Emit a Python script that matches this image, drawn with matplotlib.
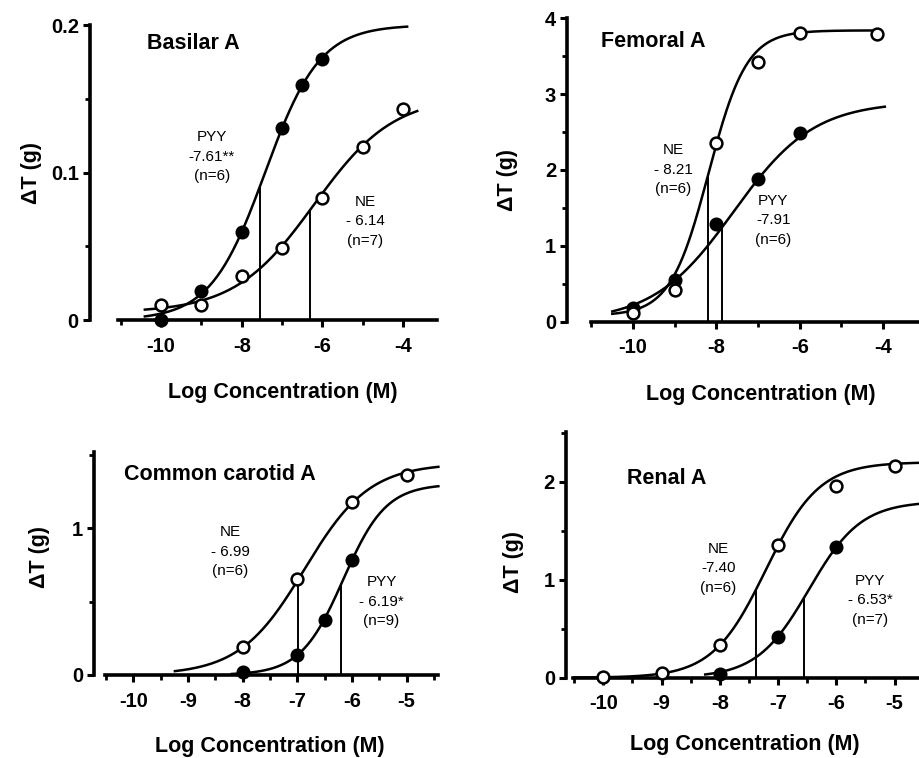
import numpy as np
import matplotlib
matplotlib.use("Agg")
import matplotlib.pyplot as plt
from matplotlib.ticker import FixedLocator

plt.rcParams['font.family'] = ['Liberation Sans', 'DejaVu Sans']

# ---- data ----
# Basilar A
bas_ne_x = [-10, -9, -8, -7, -6, -5, -4]
bas_ne_y = [0.010, 0.010, 0.030, 0.049, 0.083, 0.117, 0.143]
bas_pyy_x = [-10, -9, -8, -7, -6.5, -6]
bas_pyy_y = [0.0, 0.020, 0.060, 0.130, 0.159, 0.177]
# fitted curves: bottom, top, logEC50, hill, x start, x end
bas_ne_fit = [0.005, 0.152, -6.20, 0.44, -10.4, -3.65]
bas_pyy_fit = [0.0, 0.200, -7.42, 0.64, -10.4, -3.9]
bas_lines = [-7.55, -6.30]   # PYY, NE drop lines

# Femoral A
fem_ne_x = [-10, -9, -8, -7, -6, -4.15]
fem_ne_y = [0.11, 0.42, 2.36, 3.42, 3.80, 3.79]
fem_pyy_x = [-10, -9, -8, -7, -6]
fem_pyy_y = [0.18, 0.55, 1.29, 1.88, 2.49]
fem_ne_fit = [0.08, 3.84, -8.19, 0.95, -10.5, -4.15]
fem_pyy_fit = [0.0, 2.90, -7.59, 0.45, -10.5, -3.96]
fem_lines = [-7.87, -8.20]

# Common carotid A
car_ne_x = [-8, -7, -6, -5]
car_ne_y = [0.19, 0.654, 1.177, 1.363]
car_pyy_x = [-8, -7, -6.5, -6]
car_pyy_y = [0.02, 0.136, 0.375, 0.784]
car_ne_fit = [0.0, 1.44, -6.87, 0.73, -9.24, -4.42]
car_pyy_fit = [0.0, 1.30, -6.16, 1.11, -8.2, -4.42]
car_lines = [-6.20, -6.99]

# Renal A
ren_ne_x = [-10, -9, -8, -7, -6, -5]
ren_ne_y = [0.01, 0.045, 0.33, 1.35, 1.96, 2.16]
ren_pyy_x = [-8, -7, -6]
ren_pyy_y = [0.035, 0.42, 1.33]
ren_ne_fit = [0.0, 2.20, -7.21, 0.95, -10.5, -4.58]
ren_pyy_fit = [0.0, 1.80, -6.47, 0.97, -8.25, -4.58]
ren_lines = [-6.55, -7.37]


def hill(x, p):
    b, t, c, n = p[:4]
    return b + (t - b) / (1 + 10 ** (n * (c - x)))


fig = plt.figure(figsize=(9.19, 7.58), dpi=100)

panels = [
    dict(rect=[0.0979, 0.5778, 0.3776, 0.3892], xlim=(-11.76, -3.16), xspine=(-11.07, -3.16),
         ylim=(0, 0.2), ymaj=[0, 0.1, 0.2], ylab=['0', '0.1', '0.2'], ymin=[0.05, 0.15],
         xmaj=[-10, -8, -6, -4], xmin=[-11, -9, -7, -5],
         ne=(bas_ne_x, bas_ne_y, bas_ne_fit), pyy=(bas_pyy_x, bas_pyy_y, bas_pyy_fit), lines=bas_lines,
         title=('Basilar A', -10.35, 0.1876),
         notes=[('PYY\n-7.61**\n(n=6)', -8.74, 0.1107), ('NE\n- 6.14\n(n=7)', -4.94, 0.0671)],
         xl=(0.556, -0.247), yl=(-0.168, 0.498)),
    dict(rect=[0.6173, 0.5756, 0.3827, 0.4003], xlim=(-11.58, -3.14), xspine=(-11.02, -3.14),
         ylim=(0, 4), ymaj=[0, 1, 2, 3, 4], ylab=['0', '1', '2', '3', '4'], ymin=[0.5, 1.5, 2.5, 3.5],
         xmaj=[-10, -8, -6, -4], xmin=[-11, -9, -7, -5],
         ne=(fem_ne_x, fem_ne_y, fem_ne_fit), pyy=(fem_pyy_x, fem_pyy_y, fem_pyy_fit), lines=fem_lines,
         title=('Femoral A', -10.76, 3.69),
         notes=[('NE\n- 8.21\n(n=6)', -9.04, 2.0), ('PYY\n-7.91\n(n=6)', -6.64, 1.34)],
         xl=(0.549, -0.24), yl=(-0.169, 0.467)),
    dict(rect=[0.1023, 0.1095, 0.3747, 0.2946], xlim=(-10.72, -4.42), xspine=(-10.52, -4.42),
         ylim=(0, 1.52), ymaj=[0, 1], ylab=['0', '1'], ymin=[0.5, 1.5],
         xmaj=[-10, -9, -8, -7, -6, -5], xmin=[-10.5, -9.5, -8.5, -7.5, -6.5, -5.5, -4.5],
         ne=(car_ne_x, car_ne_y, car_ne_fit), pyy=(car_pyy_x, car_pyy_y, car_pyy_fit), lines=car_lines,
         title=('Common carotid A', -10.18, 1.363),
         notes=[('NE\n- 6.99\n(n=6)', -8.23, 0.84), ('PYY\n- 6.19*\n(n=9)', -5.46, 0.50)],
         xl=(0.511, -0.32), yl=(-0.157, 0.53)),
    dict(rect=[0.6159, 0.1059, 0.3841, 0.3245], xlim=(-10.64, -4.58), xspine=(-10.52, -4.58),
         ylim=(0, 2.51), ymaj=[0, 1, 2], ylab=['0', '1', '2'], ymin=[0.5, 1.5, 2.5],
         xmaj=[-10, -9, -8, -7, -6, -5], xmin=[-10.5, -9.5, -8.5, -7.5, -6.5, -5.5, -4.5],
         ne=(ren_ne_x, ren_ne_y, ren_ne_fit), pyy=(ren_pyy_x, ren_pyy_y, ren_pyy_fit), lines=ren_lines,
         title=('Renal A', -9.6, 2.035),
         notes=[('NE\n-7.40\n(n=6)', -8.02, 1.116), ('PYY\n- 6.53*\n(n=7)', -5.42, 0.79)],
         xl=(0.507, -0.27), yl=(-0.150, 0.472)),
]

for p in panels:
    ax = fig.add_axes(p['rect'])
    ax.set_xlim(*p['xlim'])
    ax.set_ylim(*p['ylim'])
    for s in ['top', 'right']:
        ax.spines[s].set_visible(False)
    ax.spines['left'].set_linewidth(2.6)
    ax.spines['bottom'].set_linewidth(2.6)
    ax.spines['left'].set_bounds(p['ylim'][0], p['ylim'][1])
    ax.spines['bottom'].set_bounds(*p['xspine'])

    ax.yaxis.set_major_locator(FixedLocator(p['ymaj']))
    ax.set_yticklabels(p['ylab'])
    ax.yaxis.set_minor_locator(FixedLocator(p['ymin']))
    ax.xaxis.set_major_locator(FixedLocator(p['xmaj']))
    ax.set_xticklabels([str(v) for v in p['xmaj']])
    ax.xaxis.set_minor_locator(FixedLocator(p['xmin']))
    ax.tick_params(axis='both', which='major', direction='out', length=5, width=2.2,
                   labelsize=14.5)
    ax.tick_params(axis='x', which='major', pad=7)
    ax.tick_params(axis='y', which='major', pad=3)
    ax.tick_params(axis='both', which='minor', direction='out', length=3.5, width=2.0)
    for lab in ax.get_xticklabels() + ax.get_yticklabels():
        lab.set_fontweight('bold')

    # fitted curves
    for xs, ys, fit in (p['ne'], p['pyy']):
        xx = np.linspace(fit[4], fit[5], 200)
        ax.plot(xx, hill(xx, fit), color='black', lw=1.8, zorder=2, clip_on=False)

    # drop lines at EC50 (PYY, NE)
    for lx, fit in zip(p['lines'], (p['pyy'][2], p['ne'][2])):
        ax.vlines(lx, 0, hill(lx, fit), color='black', lw=1.4, zorder=1)

    # points
    ax.plot(p['pyy'][0], p['pyy'][1], 'o', ms=8.5, mfc='black', mec='black', mew=1.6,
            zorder=4, clip_on=False)
    ax.plot(p['ne'][0], p['ne'][1], 'o', ms=8.5, mfc='white', mec='black', mew=1.8,
            zorder=5, clip_on=False)

    t, tx, ty = p['title']
    ax.text(tx, ty, t, fontsize=15.5, fontweight='bold', ha='left', va='center')
    for txt, nx, ny in p['notes']:
        ax.text(nx, ny, txt, fontsize=11, ha='center', va='center', linespacing=1.5)

    ax.set_xlabel('Log Concentration (M)', fontsize=15.5, fontweight='bold', va='center')
    ax.xaxis.set_label_coords(*p['xl'])
    ax.set_ylabel('ΔT (g)', fontsize=15.5, fontweight='bold', va='center')
    ax.yaxis.set_label_coords(*p['yl'])

fig.savefig('out.png', dpi=100)
